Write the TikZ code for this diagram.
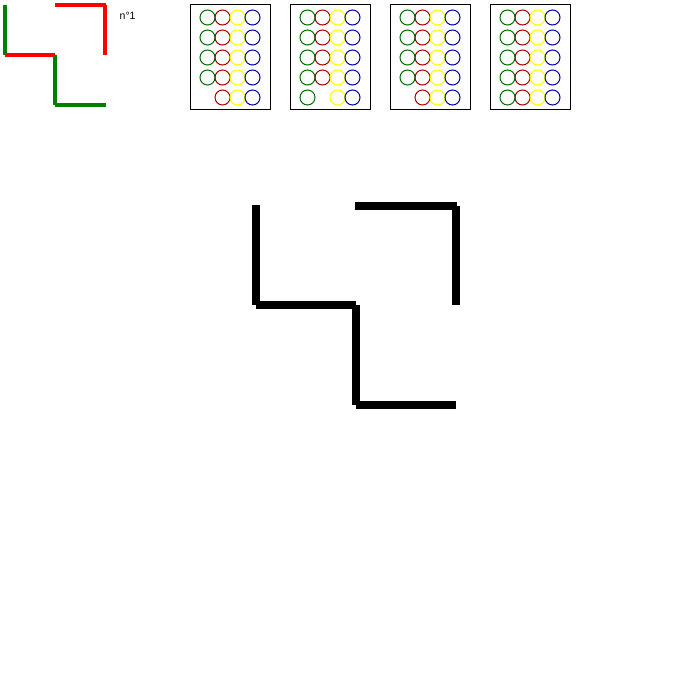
\documentclass[tikz,border=0pt]{standalone}
\usepackage{fontspec}
\setmainfont{Liberation Sans}
\definecolor{sgreen}{RGB}{0,128,0}
\definecolor{sred}{RGB}{255,0,0}
\definecolor{cgreen}{RGB}{0,110,0}
\definecolor{cred}{RGB}{170,0,0}
\definecolor{cyellow}{RGB}{255,255,0}
\definecolor{cblue}{RGB}{0,0,170}
\begin{document}
\begin{tikzpicture}[x=1pt,y=-1pt,
  small/.style={line width=4pt},
  big/.style={line width=8pt,black},
  card/.style={draw=black,line width=1pt},
  dot/.style={line width=1pt}]
\useasboundingbox (0,0) rectangle (700,700);
% small figure
\draw[small,sgreen] (5,5) -- (5,55);
\draw[small,sred] (5,55) -- (55,55);
\draw[small,sgreen] (55,55) -- (55,105);
\draw[small,sgreen] (55,105) -- (106,105);
\draw[small,sred] (55,5) -- (106,5);
\draw[small,sred] (105,5) -- (105,55);
\node[anchor=west,inner sep=0pt,font=\fontsize{10.5}{12}\selectfont] (lbl) at (119.5,16) {n°1};
% cards
\foreach \k/\miss in {0/1,1/2,2/1,3/0}{
  \begin{scope}[shift={(190+100*\k,0)}]
    \draw[card] (0,5) rectangle (80,110);
    \foreach \r in {0,...,4}{
      \foreach \c/\col in {0/cgreen,1/cred,2/cyellow,3/cblue}{
        \pgfmathtruncatemacro{\skip}{(\r==4)&&(\c==\miss-1)}
        \ifnum\skip=0
          \draw[dot,\col] (17.5+15*\c,17.5+20*\r) circle (7.5);
        \fi
      }
    }
  \end{scope}
}
% big figure
\draw[big] (256,205) -- (256,305);
\draw[big] (256,305) -- (356,305);
\draw[big] (356,305) -- (356,405);
\draw[big] (356,405) -- (456,405);
\draw[big] (355,206) -- (457,206);
\draw[big] (456,206) -- (456,305);
\end{tikzpicture}
\end{document}
